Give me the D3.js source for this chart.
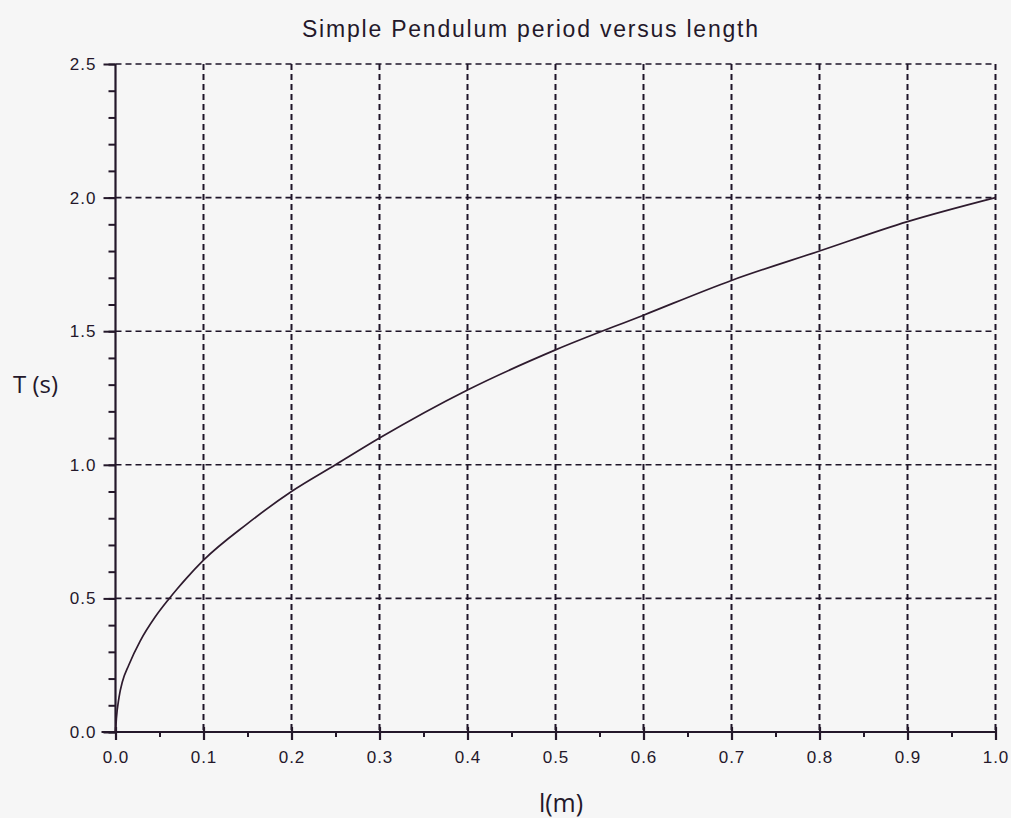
<!DOCTYPE html>
<html>
<head>
<meta charset="utf-8">
<script src="https://cdn.jsdelivr.net/npm/d3@7"></script>
<style>
  html, body { margin: 0; padding: 0; background: #f6f6f6; }
  svg { display: block; }
  .tick-label { font-family: "Liberation Sans", Arial, sans-serif; font-size: 17px; letter-spacing: 1px; fill: #24182a; }
</style>
</head>
<body>
<svg id="chart" width="1011" height="818"></svg>
<script>
// pendulum length (m) and period (s)
const lengths = [0, 0.001, 0.004, 0.008, 0.015, 0.028, 0.045, 0.06, 0.07, 0.08, 0.1, 0.15, 0.2, 0.25, 0.3, 0.4, 0.5, 0.6, 0.7, 0.8, 0.9, 1.0];
const periods = [0, 0.05, 0.13, 0.19, 0.25, 0.34, 0.43, 0.495, 0.535, 0.573, 0.643, 0.78, 0.9, 1.0, 1.1, 1.28, 1.43, 1.56, 1.69, 1.8, 1.91, 2.0];
const xTicks = [0, 0.1, 0.2, 0.3, 0.4, 0.5, 0.6, 0.7, 0.8, 0.9, 1.0];
const yTicks = [0, 0.5, 1.0, 1.5, 2.0, 2.5];

const ink = "#24182a";
let svg = d3.select("#chart");

let x = d3.scaleLinear().domain([0, 1]).range([115.5, 995.5]);
let y = d3.scaleLinear().domain([0, 2.5]).range([732, 64]);

// dashed grid
let grid = svg.append("g")
  .attr("stroke", "#1e1428")
  .attr("stroke-dasharray", "6,4");
grid.selectAll(".vgrid")
  .data(xTicks.slice(1))
  .enter().append("line")
  .attr("class", "vgrid")
  .attr("x1", d => x(d)).attr("x2", d => x(d))
  .attr("y1", y(2.5)).attr("y2", y(0))
  .attr("stroke-width", 2);
grid.selectAll(".hgrid")
  .data(yTicks.slice(1))
  .enter().append("line")
  .attr("class", "hgrid")
  .attr("x1", x(0)).attr("x2", x(1))
  .attr("y1", d => y(d)).attr("y2", d => y(d))
  .attr("stroke-width", 1.6);

// y axis: minor ticks every 0.1, labels every 0.5
let gy = svg.append("g").attr("transform", "translate(" + x(0) + ",0)");
gy.call(d3.axisLeft(y).tickValues(d3.range(0, 2.51, 0.1)).tickSize(7).tickFormat(""));
gy.select(".domain").remove();
gy.selectAll(".tick line").attr("stroke", ink).attr("stroke-width", 2);
gy.append("line")
  .attr("y1", y(0)).attr("y2", y(2.5))
  .attr("stroke", ink).attr("stroke-width", 2.2);
let gy2 = svg.append("g").attr("transform", "translate(" + x(0) + ",0)");
gy2.call(d3.axisLeft(y).tickValues(yTicks).tickSize(12).tickPadding(7).tickFormat(d3.format(".1f")));
gy2.select(".domain").remove();
gy2.selectAll(".tick line").attr("stroke", ink).attr("stroke-width", 2);
gy2.selectAll("text").attr("class", "tick-label").attr("font-family", null).attr("font-size", null);

// x axis: minor ticks at the halves, labels every 0.1
let gx = svg.append("g").attr("transform", "translate(0," + y(0) + ")");
gx.call(d3.axisBottom(x).tickValues(d3.range(0.05, 1, 0.1)).tickSize(5).tickFormat(""));
gx.select(".domain").remove();
gx.selectAll(".tick line").attr("stroke", ink).attr("stroke-width", 2);
let gx2 = svg.append("g").attr("transform", "translate(0," + y(0) + ")");
gx2.call(d3.axisBottom(x).tickValues(xTicks).tickSize(8).tickPadding(11).tickFormat(d3.format(".1f")));
gx2.select(".domain").remove();
gx2.selectAll(".tick line").attr("y1", -5).attr("stroke", ink).attr("stroke-width", 2.2);
gx2.selectAll("text").attr("class", "tick-label").attr("font-family", null).attr("font-size", null);
svg.append("line")
  .attr("x1", x(0) - 14).attr("x2", x(1))
  .attr("y1", y(0)).attr("y2", y(0))
  .attr("stroke", ink).attr("stroke-width", 2.2);

// the curve
let pts = lengths.map((l, i) => [l, periods[i]]);
svg.append("path")
  .datum(pts)
  .attr("fill", "none")
  .attr("stroke", "#2e1b2e")
  .attr("stroke-width", 1.7)
  .attr("d", d3.line().curve(d3.curveMonotoneX).x(d => x(d[0])).y(d => y(d[1])));

// titles
svg.append("text")
  .attr("x", 530).attr("y", 37)
  .attr("text-anchor", "middle")
  .attr("textLength", 456)
  .attr("lengthAdjust", "spacing")
  .style("font-family", "'Liberation Sans', Arial, sans-serif")
  .style("font-size", "23px")
  .style("fill", ink)
  .text("Simple Pendulum period versus length");
svg.append("text")
  .attr("x", 13).attr("y", 393)
  .style("font-family", "'Open Sans', sans-serif")
  .style("font-size", "24px")
  .style("fill", ink)
  .text("T (s)");
svg.append("text")
  .attr("x", 561).attr("y", 812)
  .attr("text-anchor", "middle")
  .style("font-family", "'Open Sans', sans-serif")
  .style("font-size", "25px")
  .style("fill", ink)
  .text("l(m)");
</script>
</body>
</html>
